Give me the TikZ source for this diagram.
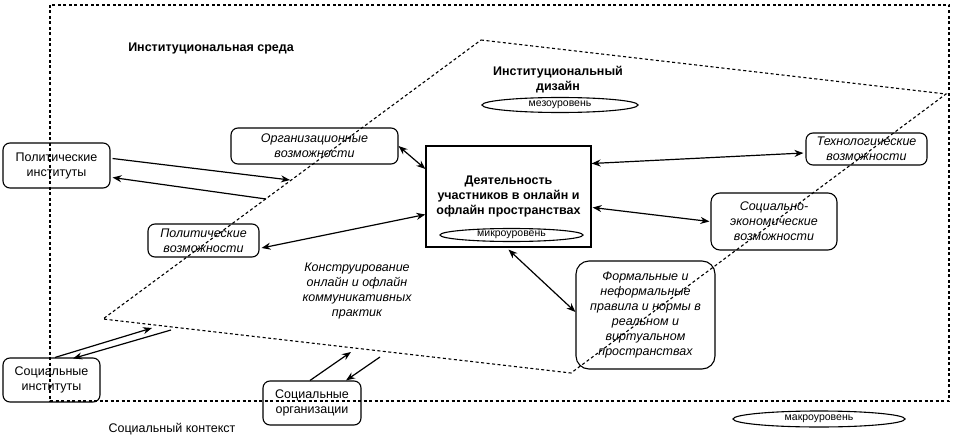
\documentclass[tikz,border=0pt]{standalone}
\usepackage{fontspec}
\setmainfont{Liberation Sans}
\usetikzlibrary{arrows.meta,shapes.geometric,calc}
\begin{document}
\begin{tikzpicture}[x=1pt,y=-1pt,
  every node/.style={font=\fontsize{12.5}{15}\selectfont, align=center, inner sep=0pt},
  rbox/.style={draw, rounded corners=7pt, line width=1.1pt},
  sbox/.style={draw, line width=1.2pt},
  lvl/.style={draw, ellipse, line width=1.1pt, font=\fontsize{10.5}{12}\selectfont},
  bold/.style={font=\fontsize{12.5}{15}\selectfont\bfseries},
  ital/.style={font=\fontsize{12.5}{15}\selectfont\itshape},
  dbl/.style={{Stealth[length=9pt,width=7pt]}-{Stealth[length=9pt,width=7pt]}, line width=1.2pt},
  sgl/.style={-{Stealth[length=9pt,width=7pt]}, line width=1.2pt},
  bnd/.style={dash pattern=on 3pt off 2.5pt, line width=1.1pt}
]
\useasboundingbox (0,0) rectangle (966,444);

% macro level boundary
\draw[bnd] (50,5) rectangle (949,401);
% meso level boundary
\draw[bnd] (481,40) -- (946,94) -- (571,373) -- (103,319) -- cycle;

% titles
\node[bold] (envtitle) at (211,48) {Институциональная среда};
\node[bold] (destitle) at (558,80) {Институциональный\\дизайн};
\node[lvl, minimum width=156pt, minimum height=15pt] (meso) at (560,105) {мезоуровень};
\node[lvl, minimum width=172pt, minimum height=16pt] (macro) at (819,419) {макроуровень};

% boxes
\node[rbox, minimum width=107pt, minimum height=45pt] (polinst) at (56.5,165.5) {Политические\\институты};
\node[rbox, ital, minimum width=167pt, minimum height=36pt] (orgopp) at (314.5,146) {Организационные\\возможности};
\node[sbox, bold, minimum width=165pt, minimum height=101pt] (act) at (508.5,196.5) {Деятельность\\участников в онлайн и\\офлайн пространствах};
\node[lvl, minimum width=143pt, minimum height=13pt] (micro) at (511.5,235) {микроуровень};
\node[rbox, ital, minimum width=121pt, minimum height=32pt] (tech) at (866.5,149) {Технологические\\возможности};
\node[rbox, ital, rounded corners=9pt, minimum width=126pt, minimum height=57pt] (socec) at (774,221.5) {Социально-\\экономические\\возможности};
\node[rbox, ital, minimum width=111pt, minimum height=33pt] (polopp) at (203.5,240.5) {Политические\\возможности};
\node[rbox, ital, rounded corners=13pt, minimum width=139pt, minimum height=108pt] (formal) at (645.5,315) {Формальные и\\неформальные\\правила и нормы в\\реальном и\\виртуальном\\пространствах};
\node[ital] (constr) at (357,291) {Конструирование\\онлайн и офлайн\\коммуникативных\\практик};
\node[rbox, minimum width=97pt, minimum height=44pt] (socinst) at (51.5,380) {Социальные\\институты};
\node[rbox, minimum width=98pt, minimum height=44pt] (socorg) at (312,403) {Социальные\\организации};
\node (context) at (172,429) {Социальный контекст};

% free ends on the meso boundary
\coordinate (m1) at (290,180);
\coordinate (m2) at (266,199);
\coordinate (m3) at (152,328);
\coordinate (m4) at (171,330);
\coordinate (m5) at (351,352);
\coordinate (m6) at (380,357);

% connectors
\draw[sgl] ($(polinst.east)+(2,-7)$) -- (m1);
\draw[sgl] (m2) -- ($(polinst.east)+(2,12)$);
\draw[dbl] (orgopp.east) -- ($(act.west)+(0,-27.5)$);
\draw[dbl] ($(polopp.east)+(2,7.5)$) -- ($(act.west)+(0,18)$);
\draw[dbl] ($(act.east)+(0,-33)$) -- ($(tech.west)+(-2,4)$);
\draw[dbl] ($(act.east)+(1,11)$) -- ($(socec.west)+(-1,0)$);
\draw[dbl] ($(act.south)+(0,2)$) -- ($(formal.west)+(0,-3)$);
\draw[sgl] ($(socinst.north)+(3.5,0)$) -- (m3);
\draw[sgl] (m4) -- ($(socinst.north)+(21.5,1)$);
\draw[sgl] ($(socorg.north)+(-2,0)$) -- (m5);
\draw[sgl] (m6) -- ($(socorg.north)+(34,0)$);
\end{tikzpicture}
\end{document}
